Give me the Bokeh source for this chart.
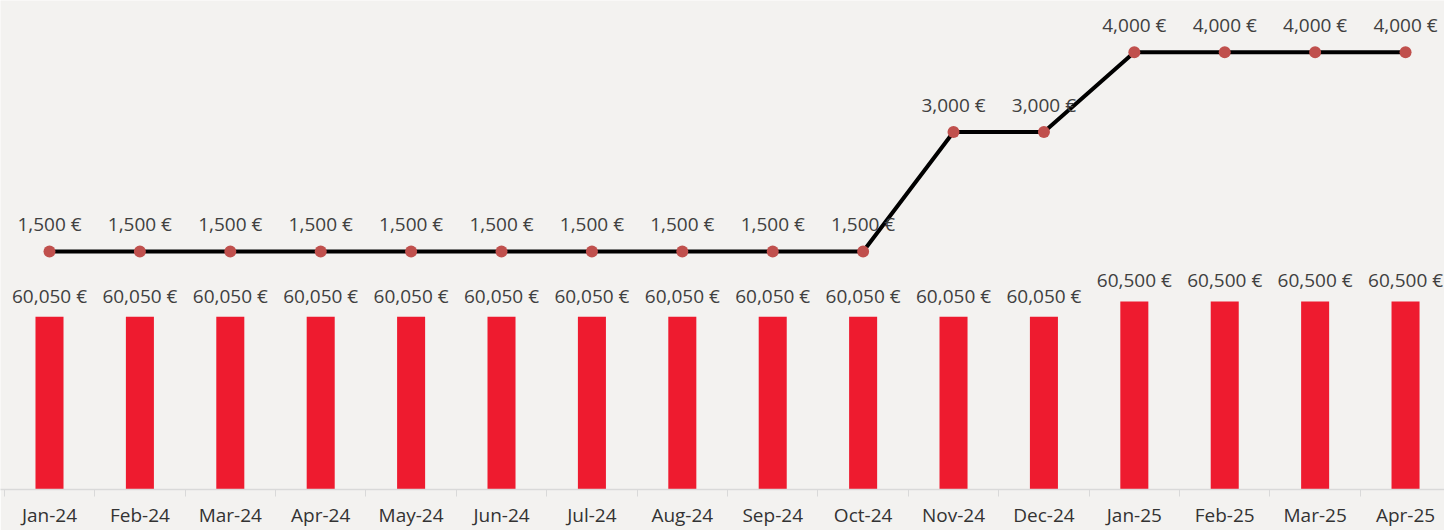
from bokeh.plotting import figure
from bokeh.models import Range1d, FixedTicker, ColumnDataSource
from bokeh.core.properties import value
from bokeh.embed import file_html
from bokeh.resources import INLINE

months = ["Jan-24", "Feb-24", "Mar-24", "Apr-24", "May-24", "Jun-24", "Jul-24", "Aug-24",
          "Sep-24", "Oct-24", "Nov-24", "Dec-24", "Jan-25", "Feb-25", "Mar-25", "Apr-25"]
bar_values = [60050, 60050, 60050, 60050, 60050, 60050, 60050, 60050,
              60050, 60050, 60050, 60050, 60500, 60500, 60500, 60500]
line_values = [1500, 1500, 1500, 1500, 1500, 1500, 1500, 1500,
               1500, 1500, 3000, 3000, 4000, 4000, 4000, 4000]

BG = "#F3F2F0"
FONT = "Open Sans"

xs = list(range(len(months)))
src = ColumnDataSource(dict(
    x=xs,
    bar=bar_values,
    line=line_values,
    bar_lbl=[f"{v:,} €" for v in bar_values],
    line_lbl=[f"{v:,} €" for v in line_values],
))

p = figure(width=1444, height=530, output_backend="svg", toolbar_location=None,
           x_range=Range1d(-0.542, 15.431), y_range=Range1d(55000, 69298),
           min_border_left=0, min_border_right=0, min_border_top=0, min_border_bottom=0,
           background_fill_color=BG, border_fill_color=BG, outline_line_color=None)
p.extra_y_ranges = {"line": Range1d(-1487.5, 4650)}

p.xgrid.visible = False
p.ygrid.visible = False
p.yaxis.visible = False

# bars
p.vbar(x="x", top="bar", bottom=55000, width=0.31, source=src,
       fill_color="#EE1B2F", line_color=None)
p.text(x="x", y="bar", text="bar_lbl", source=src, text_align="center",
       text_baseline="middle", y_offset=-21, text_font=value(FONT),
       text_font_size="19px", text_color="#404040")

# line
p.line(x="x", y="line", source=src, y_range_name="line", line_color="black", line_width=4)
p.scatter(x="x", y="line", source=src, y_range_name="line", size=12,
          fill_color="#C0504D", line_color=None)
p.text(x="x", y="line", text="line_lbl", source=src, y_range_name="line",
       text_align="center", text_baseline="middle", y_offset=-27,
       text_font=value(FONT), text_font_size="19px", text_color="#404040")

# x axis
ax = p.xaxis[0]
ax.ticker = FixedTicker(ticks=xs, minor_ticks=[i + 0.5 for i in range(-1, len(months))])
ax.major_label_overrides = {i: m for i, m in enumerate(months)}
ax.major_tick_line_color = None
ax.major_tick_in = 0
ax.major_tick_out = 0
ax.minor_tick_in = 0
ax.minor_tick_out = 7
ax.minor_tick_line_color = "#D9D9D9"
ax.axis_line_color = "#D9D9D9"
ax.axis_line_width = 1.5
ax.major_label_text_font = FONT
ax.major_label_text_font_size = "19px"
ax.major_label_text_color = "#333333"
ax.major_label_standoff = 5

open("out.html", "w").write(file_html(p, INLINE))
